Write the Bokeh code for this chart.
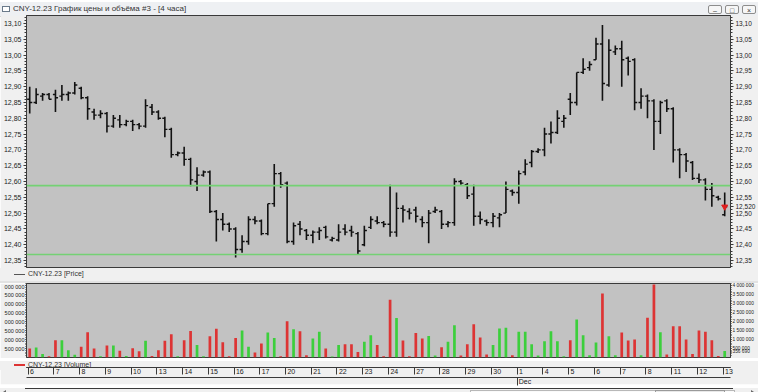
from bokeh.plotting import figure
from bokeh.models import (ColumnDataSource, Range1d, LinearAxis, FixedTicker,
                          CustomJSTickFormatter, Span, Div)
from bokeh.layouts import column
from bokeh.embed import file_html
from bokeh.resources import INLINE

title_text = "CNY-12.23 График цены и объёма #3 - [4 часа]"
series_name = "CNY-12.23"
day_labels = ["6", "7", "8", "9", "10", "13", "14", "15", "16", "17", "20", "21", "22", "23",
              "24", "27", "28", "29", "30", "1", "4", "5", "6", "7", "8", "11", "12", "13"]
month_labels = ["Dec"]
month_day_index = [19]
bars_per_day = 4

opens = [12.86, 12.85, 12.87, 12.875, 12.875, 12.87, 12.875, 12.88, 12.895, 12.865,
         12.82, 12.81, 12.815, 12.775, 12.795, 12.78, 12.79, 12.78, 12.775, 12.835,
         12.82, 12.80, 12.765, 12.685, 12.69, 12.67, 12.60, 12.62, 12.63, 12.505,
         12.48, 12.465, 12.45, 12.385, 12.41, 12.48, 12.475, 12.435, 12.53, 12.625,
         12.595, 12.41, 12.465, 12.445, 12.43, 12.44, 12.455, 12.415, 12.415, 12.45,
         12.445, 12.435, 12.40, 12.455, 12.475, 12.47, 12.465, 12.44, 12.515, 12.505,
         12.51, 12.48, 12.47, 12.505, 12.505, 12.465, 12.47, 12.60, 12.59, 12.56,
         12.49, 12.475, 12.47, 12.485, 12.50, 12.57, 12.565, 12.63, 12.66, 12.695,
         12.70, 12.75, 12.755, 12.79, 12.86, 12.85, 12.945, 12.96, 12.985, 13.035,
         12.905, 13.01, 13.02, 12.99, 12.985, 12.85, 12.87, 12.855, 12.79, 12.855,
         12.83, 12.70, 12.685, 12.66, 12.61, 12.605, 12.575, 12.55, 12.495]
highs = [12.90, 12.895, 12.88, 12.88, 12.89, 12.905, 12.885, 12.915, 12.90, 12.87,
         12.83, 12.825, 12.82, 12.81, 12.81, 12.795, 12.795, 12.785, 12.86, 12.845,
         12.825, 12.805, 12.77, 12.695, 12.71, 12.675, 12.645, 12.635, 12.635, 12.51,
         12.50, 12.47, 12.455, 12.43, 12.49, 12.49, 12.48, 12.53, 12.655, 12.63,
         12.60, 12.47, 12.475, 12.45, 12.445, 12.455, 12.46, 12.425, 12.465, 12.465,
         12.46, 12.44, 12.46, 12.49, 12.49, 12.475, 12.59, 12.565, 12.525, 12.515,
         12.52, 12.49, 12.51, 12.52, 12.51, 12.475, 12.61, 12.605, 12.595, 12.59,
         12.505, 12.48, 12.50, 12.50, 12.60, 12.575, 12.635, 12.67, 12.70, 12.705,
         12.77, 12.79, 12.825, 12.81, 12.88, 12.945, 12.99, 12.98, 13.055, 13.095,
         13.05, 13.03, 13.045, 12.995, 12.99, 12.895, 12.875, 12.86, 12.855, 12.86,
         12.835, 12.705, 12.69, 12.665, 12.625, 12.61, 12.595, 12.555, 12.565]
lows = [12.815, 12.845, 12.855, 12.86, 12.82, 12.855, 12.855, 12.875, 12.86, 12.795,
        12.795, 12.80, 12.755, 12.77, 12.77, 12.775, 12.76, 12.765, 12.77, 12.81,
        12.795, 12.74, 12.675, 12.68, 12.65, 12.585, 12.57, 12.615, 12.50, 12.41,
        12.445, 12.44, 12.36, 12.375, 12.40, 12.465, 12.43, 12.43, 12.52, 12.58,
        12.405, 12.40, 12.43, 12.415, 12.405, 12.415, 12.42, 12.41, 12.41, 12.43,
        12.425, 12.37, 12.395, 12.45, 12.465, 12.455, 12.425, 12.425, 12.47, 12.48,
        12.47, 12.455, 12.405, 12.50, 12.45, 12.455, 12.46, 12.59, 12.545, 12.46,
        12.465, 12.46, 12.455, 12.455, 12.50, 12.555, 12.53, 12.62, 12.645, 12.69,
        12.68, 12.72, 12.75, 12.77, 12.81, 12.84, 12.94, 12.95, 12.985, 12.855,
        12.90, 13.0, 12.90, 12.935, 12.825, 12.83, 12.80, 12.70, 12.75, 12.82,
        12.66, 12.61, 12.63, 12.605, 12.595, 12.54, 12.52, 12.54, 12.49]
closes = [12.85, 12.875, 12.875, 12.86, 12.865, 12.875, 12.88, 12.905, 12.865, 12.83,
          12.81, 12.815, 12.775, 12.80, 12.78, 12.79, 12.78, 12.775, 12.84, 12.82,
          12.80, 12.765, 12.685, 12.69, 12.67, 12.605, 12.62, 12.63, 12.505, 12.48,
          12.465, 12.45, 12.385, 12.41, 12.48, 12.475, 12.435, 12.53, 12.625, 12.59,
          12.41, 12.46, 12.45, 12.43, 12.44, 12.445, 12.425, 12.42, 12.44, 12.44,
          12.44, 12.38, 12.445, 12.48, 12.47, 12.465, 12.44, 12.515, 12.51, 12.50,
          12.49, 12.47, 12.50, 12.51, 12.465, 12.47, 12.60, 12.595, 12.555, 12.49,
          12.48, 12.47, 12.49, 12.495, 12.575, 12.565, 12.625, 12.655, 12.695, 12.70,
          12.75, 12.755, 12.80, 12.80, 12.85, 12.945, 12.955, 12.97, 13.035, 12.91,
          13.015, 13.02, 12.985, 12.98, 12.85, 12.87, 12.855, 12.79, 12.85, 12.83,
          12.70, 12.685, 12.665, 12.61, 12.605, 12.575, 12.555, 12.545, 12.52]
volumes = [500000, 560000, 190000, 70000, 960000, 960000, 400000, 150000, 600000, 1400000,
           500000, 70000, 670000, 670000, 370000, 90000, 520000, 350000, 930000, 90000,
           410000, 930000, 1300000, 70000, 960000, 1480000, 700000, 70000, 1190000, 1600000,
           850000, 70000, 1090000, 1500000, 600000, 280000, 780000, 1390000, 1090000, 70000,
           2020000, 1570000, 1460000, 130000, 1060000, 1430000, 500000, 60000, 690000, 740000,
           740000, 300000, 870000, 1240000, 700000, 70000, 3220000, 2200000, 940000, 70000,
           1370000, 1060000, 1200000, 110000, 570000, 870000, 1800000, 110000, 740000, 1850000,
           1110000, 170000, 700000, 1610000, 1650000, 130000, 1430000, 1430000, 740000, 110000,
           910000, 1460000, 910000, 70000, 960000, 2110000, 1240000, 130000, 830000, 3560000,
           1190000, 130000, 1390000, 940000, 1000000, 130000, 2220000, 4070000, 1410000, 170000,
           1740000, 1740000, 1000000, 190000, 1500000, 1440000, 960000, 90000, 356690]
levels = [12.587, 12.369]

price_ticks = [round(12.35 + 0.05 * k, 2) for k in range(16)]
price_minor = [round(12.33 + 0.01 * k, 2) for k in range(80)]
vol_ticks = [500000 * k for k in range(1, 9)]
vol_minor = [100000 * k for k in range(1, 42)]

RED = "#dd3434"
GREEN = "#3ccf3c"
BG = "#f0f0f0"
PLOT_BG = "#c2c2c2"
AX = "#3a3a3a"
FONT = "Liberation Sans"
W = 758
LB, RB = 25, 25

n = len(closes)
xs = list(range(n))
tick_len = 0.4
src = ColumnDataSource(dict(
    x=xs, open=opens, high=highs, low=lows, close=closes, vol=volumes,
    xl=[x - tick_len for x in xs], xr=[x + tick_len for x in xs],
    color=[GREEN if c >= o else RED for o, c in zip(opens, closes)],
))
x_range = Range1d(-0.5, n - 1 + 0.9)

# ---------- window title bar ----------
btn = ("display:inline-block;width:14px;height:9px;border:1px solid #8d8d8d;border-radius:2px;"
       "background:#f6f6f6;font-size:7px;line-height:9px;text-align:center;color:#333;margin-left:3px;")
title_html = (
    f'<div style="width:{W}px;height:15px;box-sizing:border-box;background:#eef0f3;'
    f'border-bottom:1px solid #cfcfcf;display:flex;align-items:center;font-family:\'{FONT}\';'
    f'font-size:8px;color:#333;">'
    '<span style="display:inline-block;width:8px;height:6px;border:1px solid #6a7a8a;'
    'margin:0 3px 0 2px;background:#fff;"></span>'
    f'<span>{title_text}</span>'
    '<span style="margin-left:auto;display:flex;margin-right:2px;">'
    f'<span style="{btn}">&#8211;</span><span style="{btn}">&#9633;</span>'
    f'<span style="{btn}">&#215;</span></span></div>'
)
title_div = Div(text=title_html, width=W, height=15, margin=0)


def legend_html(label, color, thick, h, shift, sep):
    return (f'<div style="width:{W}px;height:{h}px;box-sizing:border-box;background:{BG};'
            f'position:relative;overflow:hidden;{sep}">'
            f'<div style="position:absolute;left:14px;top:{shift}px;font-family:\'{FONT}\';'
            f'font-size:7px;color:#333;line-height:8px;white-space:nowrap;">'
            f'<span style="display:inline-block;width:11px;height:0;border-top:{thick}px solid {color};'
            f'vertical-align:middle;margin-right:3px;"></span>{label}</div></div>')


# ---------- price panel ----------
p = figure(width=W, height=253, x_range=x_range, y_range=Range1d(12.328, 13.125),
           output_backend="svg", toolbar_location=None,
           x_axis_location=None, y_axis_location=None,
           background_fill_color=PLOT_BG, border_fill_color=BG,
           min_border_left=LB, min_border_right=RB, min_border_top=0, min_border_bottom=1)
p.outline_line_color = AX
p.xgrid.visible = False
p.ygrid.visible = False

last_price_text = f"{closes[-1]:.3f}".replace(".", ",")
left_fmt = CustomJSTickFormatter(code="return tick.toFixed(2).replace('.', ',');")
right_fmt = CustomJSTickFormatter(
    args=dict(last=closes[-1], txt=last_price_text),
    code="if (Math.abs(tick - last) < 1e-9) return txt; return tick.toFixed(2).replace('.', ',');")
for side, fmt, extra, fs in (("left", left_fmt, [], "7px"),
                             ("right", right_fmt, [closes[-1]], "6.5px")):
    ax = LinearAxis(ticker=FixedTicker(ticks=price_ticks + extra, minor_ticks=price_minor),
                    formatter=fmt,
                    major_label_text_font_size=fs, major_label_text_font=FONT,
                    major_label_text_color="#222", major_label_standoff=2,
                    major_tick_out=3, major_tick_in=0, minor_tick_out=2, minor_tick_in=0,
                    axis_line_color=AX, major_tick_line_color=AX, minor_tick_line_color=AX)
    p.add_layout(ax, side)

for lv in levels:
    p.add_layout(Span(location=lv, dimension="width", line_color="#74d174", line_width=1.6))

p.segment(x0="x", y0="low", x1="x", y1="high", source=src, line_color="#111111", line_width=1.6)
p.segment(x0="xl", y0="open", x1="x", y1="open", source=src, line_color="#111111", line_width=1.4)
p.segment(x0="x", y0="close", x1="xr", y1="close", source=src, line_color="#111111", line_width=1.4)
p.scatter(x=[xs[-1]], y=[closes[-1]], marker="inverted_triangle", size=6,
          fill_color="#e02020", line_color="#e02020")

price_leg = Div(text=legend_html(f"{series_name} [Price]", "#555555", 1, 15, 2,
                                 "border-bottom:2px solid #e2e2e2;"),
                width=W, height=15, margin=0)

# ---------- volume panel ----------
v = figure(width=W, height=75, x_range=x_range, y_range=Range1d(0, 4.12e6),
           output_backend="svg", toolbar_location=None,
           x_axis_location=None, y_axis_location=None,
           background_fill_color=PLOT_BG, border_fill_color=BG,
           min_border_left=LB, min_border_right=RB, min_border_top=0, min_border_bottom=1)
v.outline_line_color = AX
v.xgrid.visible = False
v.ygrid.visible = False

vol_text = f"{volumes[-1]:,}".replace(",", " ")
fmt_left = r"return Math.round(tick).toString().replace(/\B(?=(\d{3})+(?!\d))/g, ' ').slice(-7);"
fmt_right = (r"if (Math.abs(tick - last) < 0.5) return txt;"
             r"return Math.round(tick).toString().replace(/\B(?=(\d{3})+(?!\d))/g, ' ');")
for side, code, extra, fs in (("left", fmt_left, [], "5.5px"),
                              ("right", fmt_right, [volumes[-1]], "4.8px")):
    ax = LinearAxis(ticker=FixedTicker(ticks=vol_ticks + extra, minor_ticks=vol_minor),
                    formatter=CustomJSTickFormatter(args=dict(last=volumes[-1], txt=vol_text), code=code),
                    major_label_text_font_size=fs, major_label_text_font=FONT,
                    major_label_text_color="#222", major_label_standoff=1,
                    major_tick_out=1, major_tick_in=0, minor_tick_out=1, minor_tick_in=0,
                    axis_line_color=AX, major_tick_line_color=AX, minor_tick_line_color=AX)
    v.add_layout(ax, side)

v.vbar(x="x", top="vol", width=0.42, bottom=0, source=src, fill_color="color", line_color=None)

vol_leg = Div(text=legend_html(f"{series_name} [Volume]", RED, 2, 9, 0, ""),
              width=W, height=9, margin=0)

# ---------- date axis strip ----------
d = figure(width=W, height=17, x_range=x_range, y_range=Range1d(0, 1),
           output_backend="svg", toolbar_location=None,
           x_axis_location=None, y_axis_location=None,
           background_fill_color=BG, border_fill_color=BG,
           min_border_left=LB, min_border_right=RB, min_border_top=0, min_border_bottom=16)
d.outline_line_color = AX
d.xgrid.visible = False
d.ygrid.visible = False

day_ticks = [bars_per_day * k - 0.25 for k in range(len(day_labels))]
pad_code = ("const k = Math.round((tick + 0.25) / bpd); const s = labels[k] || '';"
            "return '\u00a0'.repeat(2 + 2 * s.length) + s;")
days_axis = LinearAxis(ticker=FixedTicker(ticks=day_ticks, minor_ticks=[]),
                       formatter=CustomJSTickFormatter(args=dict(labels=day_labels, bpd=bars_per_day),
                                                       code=pad_code),
                       major_label_text_font_size="7px", major_label_text_font=FONT,
                       major_label_text_color="#222",
                       major_tick_out=7, major_tick_in=0, major_label_standoff=-7,
                       axis_line_color=AX, major_tick_line_color=AX)
d.add_layout(days_axis, "below")

month_ticks = [bars_per_day * m - 0.25 for m in month_day_index]
month_map = {str(bars_per_day * m): lab for m, lab in zip(month_day_index, month_labels)}
month_code = ("const k = Math.round(tick + 0.25).toString(); const s = mm[k] || '';"
              "return '\u00a0'.repeat(2 + 2 * s.length) + s;")
month_axis = LinearAxis(ticker=FixedTicker(ticks=month_ticks, minor_ticks=[]),
                        formatter=CustomJSTickFormatter(args=dict(mm=month_map), code=month_code),
                        major_label_text_font_size="7px", major_label_text_font=FONT,
                        major_label_text_color="#222",
                        major_tick_out=8, major_tick_in=0, major_label_standoff=-8,
                        axis_line_color=AX, major_tick_line_color=AX)
d.add_layout(month_axis, "below")

# ---------- bottom scrollbar (no text, CSS arrows) ----------
scroll_html = (
    f'<div style="position:relative;width:{W}px;height:8px;background:{BG};overflow:hidden;">'
    f'<div style="position:absolute;left:{LB}px;width:{W - LB - RB}px;top:0;height:0;'
    f'border-top:1px solid {AX};"></div>'
    '<div style="position:absolute;left:3px;top:2px;width:0;height:0;border-top:2px solid transparent;'
    'border-bottom:2px solid transparent;border-right:3px solid #666;"></div>'
    '<div style="position:absolute;left:470px;width:265px;top:2px;height:3px;'
    'border:1px solid #b8b8b8;background:#fafafa;"></div>'
    '<div style="position:absolute;left:655px;width:70px;top:2px;height:3px;'
    'border:1px solid #9a9a9a;background:#e8e8e8;"></div>'
    f'<div style="position:absolute;left:{W - 7}px;top:2px;width:0;height:0;'
    'border-top:2px solid transparent;border-bottom:2px solid transparent;'
    'border-left:3px solid #666;"></div></div>'
)
scroll_div = Div(text=scroll_html, width=W, height=8, margin=0)

layout = column(title_div, p, price_leg, v, vol_leg, d, scroll_div, spacing=0)
open("out.html", "w").write(file_html(layout, INLINE))
